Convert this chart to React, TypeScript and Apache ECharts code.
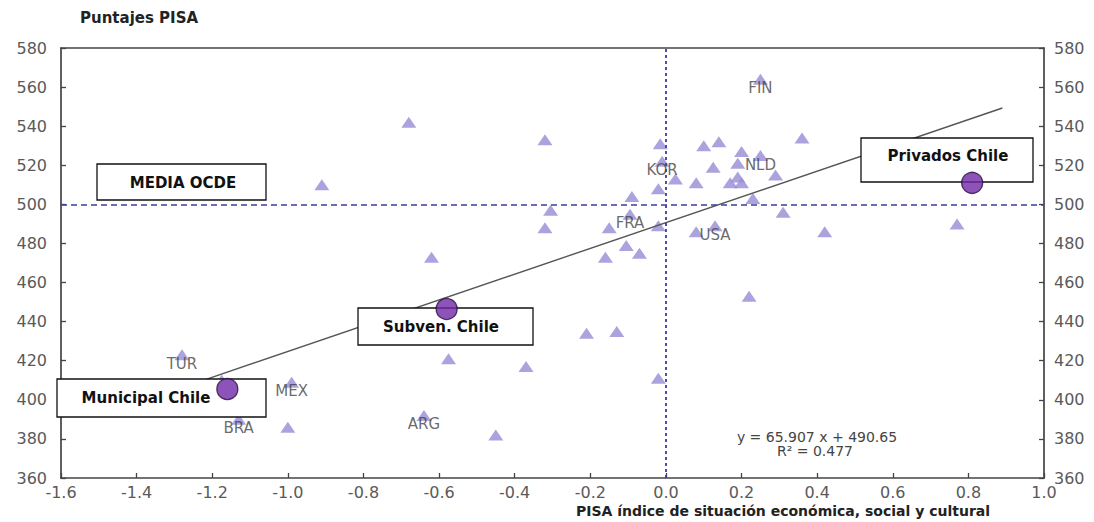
import React, { useEffect, useRef } from "react";
import * as echarts from "echarts";

// OECD / other countries (triangles)
const countryNames = [
  "TUR", "", "BRA", "", "MEX", "ARG", "", "", "", "", "", "", "",
  "", "", "", "", "KOR", "", "", "", "", "", "", "FRA", "", "", "", "", "", "",
  "FIN", "", "", "", "", "NLD", "", "", "", "", "", "", "", "", "", "USA", "", "",
];
const countryX = [
  -1.28, -1.175, -1.13, -1.0, -0.99, -0.64, -0.575, -0.45, -0.37, -0.21, -0.13, -0.02, 0.22,
  -0.68, -0.32, -0.91, -0.015, -0.01, 0.025, 0.08, -0.02, -0.09, -0.305, -0.32, -0.095, -0.15, -0.02, -0.105, -0.07, -0.16, -0.62,
  0.25, 0.36, 0.1, 0.14, 0.2, 0.25, 0.125, 0.19, 0.19, 0.17, 0.2, 0.29, 0.23, 0.31, 0.08, 0.13, 0.42, 0.77,
];
const countryY = [
  423, 410, 390, 386, 409, 392, 421, 382, 417, 434, 435, 411, 453,
  542, 533, 510, 531, 522, 513, 511, 508, 504, 497, 488, 495, 488, 489, 479, 475, 473, 473,
  564, 534, 530, 532, 527, 525, 519, 521, 514, 511, 511, 515, 503, 496, 486, 489, 486, 490,
];

// Chile by school type (circles)
const chileNames = ["Municipal Chile", "Subven. Chile", "Privados Chile"];
const chileX = [-1.16, -0.58, 0.81];
const chileY = [405.5, 446.5, 511];

// Regression (as printed on the chart)
const slope = 65.907;
const intercept = 490.65;
const r2 = 0.477;
const fitX = [-1.22, 0.89];

// Reference lines
const oecdMeanScore = 500;
const oecdMeanIndex = 0;

const yTitle = "Puntajes PISA";
const xTitle = "PISA índice de situación económica, social y cultural";
const oecdBoxLabel = "MEDIA OCDE";

const FONT = '"DejaVu Sans", Verdana, sans-serif';

export default function App() {
  const ref = useRef<HTMLDivElement>(null);

  useEffect(() => {
    if (!ref.current) return;
    const chart = echarts.init(ref.current, undefined, { renderer: "svg" });

    const triData = countryX.map((x, i) => {
      const item: any = { value: [x, countryY[i]], name: countryNames[i] };
      if (countryNames[i]) item.label = { show: true };
      return item;
    });
    const chileData = chileX.map((x, i) => ({ value: [x, chileY[i]], name: chileNames[i] }));
    const fitData = fitX.map((x) => [x, slope * x + intercept]);

    const axisLineStyle = { color: "#444", width: 1.7 };
    const tickStyle = { color: "#444", width: 1.3 };
    const tickLabel = { color: "#5a5a5a", fontSize: 16, fontFamily: FONT };

    const box = (x: number, y: number, w: number, h: number, text: string, tx: number, ty: number) => [
      {
        type: "rect",
        z: 10,
        shape: { x, y, width: w, height: h },
        style: { fill: "#fff", stroke: "#111", lineWidth: 1.3 },
      },
      {
        type: "text",
        z: 11,
        x: tx,
        y: ty,
        style: {
          text,
          fill: "#111",
          font: `bold 15px ${FONT}`,
          align: "center",
          verticalAlign: "middle",
          textAlign: "center",
          textVerticalAlign: "middle",
        },
      },
    ];

    const textEl = (x: number, y: number, text: string, font: string, color: string, align = "center") => ({
      type: "text",
      z: 11,
      x,
      y,
      style: {
        text,
        fill: color,
        font,
        align,
        verticalAlign: "middle",
        textAlign: align,
        textVerticalAlign: "middle",
      },
    });

    chart.setOption({
      animation: false,
      backgroundColor: "#fff",
      grid: { left: 61, right: 50, top: 48, bottom: 44, containLabel: false },
      xAxis: [
        {
          type: "value",
          min: -1.6,
          max: 1.0,
          interval: 0.2,
          position: "bottom",
          axisLine: { show: true, onZero: false, lineStyle: axisLineStyle },
          axisTick: { show: true, inside: true, length: 5, lineStyle: tickStyle },
          axisLabel: { ...tickLabel, margin: 6, formatter: (v: number) => v.toFixed(1) },
          splitLine: { show: false },
        },
        {
          type: "value",
          min: -1.6,
          max: 1.0,
          interval: 0.2,
          position: "top",
          axisLine: { show: true, onZero: false, lineStyle: axisLineStyle },
          axisTick: { show: false },
          axisLabel: { show: false },
          splitLine: { show: false },
        },
      ],
      yAxis: [
        {
          type: "value",
          min: 360,
          max: 580,
          interval: 20,
          position: "left",
          axisLine: { show: true, onZero: false, lineStyle: axisLineStyle },
          axisTick: { show: true, inside: true, length: 5, lineStyle: tickStyle },
          axisLabel: { ...tickLabel, margin: 14 },
          splitLine: { show: false },
        },
        {
          type: "value",
          min: 360,
          max: 580,
          interval: 20,
          position: "right",
          axisLine: { show: true, onZero: false, lineStyle: axisLineStyle },
          axisTick: { show: true, inside: true, length: 5, lineStyle: tickStyle },
          axisLabel: { ...tickLabel, margin: 10 },
          splitLine: { show: false },
        },
      ],
      series: [
        {
          type: "scatter",
          name: "Países",
          z: 2,
          symbol: "triangle",
          symbolSize: [15, 11],
          itemStyle: { color: "#968cd4" },
          label: {
            show: false,
            formatter: "{b}",
            position: "inside",
            offset: [0, 9],
            color: "#444",
            fontSize: 15,
            fontFamily: FONT,
          },
          data: triData,
          markLine: {
            silent: true,
            symbol: "none",
            label: { show: false },
            lineStyle: { color: "#3c3ca0", width: 1.6 },
            data: [
              { xAxis: oecdMeanIndex, lineStyle: { type: [3, 3], color: "#3c3ca0", width: 1.8 } },
              { yAxis: oecdMeanScore, lineStyle: { type: [6, 4], color: "#3c3ca0", width: 1.6 } },
            ],
          },
        },
        {
          type: "line",
          name: "Tendencia",
          z: 3,
          symbol: "none",
          lineStyle: { color: "#555", width: 1.4 },
          data: fitData,
        },
        {
          type: "scatter",
          name: "Chile",
          z: 20,
          symbol: "circle",
          symbolSize: 21,
          itemStyle: { color: "#7028a8", borderColor: "#24103c", borderWidth: 1.3 },
          data: chileData,
        },
      ],
      graphic: [
        textEl(80, 18, yTitle, `bold 15px ${FONT}`, "#222", "left"),
        textEl(783, 511, xTitle, `bold 14px ${FONT}`, "#222"),
        ...box(97, 164, 169, 36, oecdBoxLabel, 183, 183),
        ...box(861, 138, 172, 44, chileNames[2], 948, 156),
        ...box(358, 308, 175, 37, chileNames[1], 441, 327),
        ...box(57, 379, 209, 38, chileNames[0], 146, 398),
        textEl(817, 437, `y = ${slope} x + ${intercept}`, `14px ${FONT}`, "#444"),
        textEl(815, 451, `R² = ${r2}`, `14px ${FONT}`, "#444"),
      ],
    });

    return () => chart.dispose();
  }, []);

  return (
    <div
      ref={ref}
      style={{ position: "absolute", left: 0, top: 0, width: 1094, height: 522 }}
    />
  );
}
